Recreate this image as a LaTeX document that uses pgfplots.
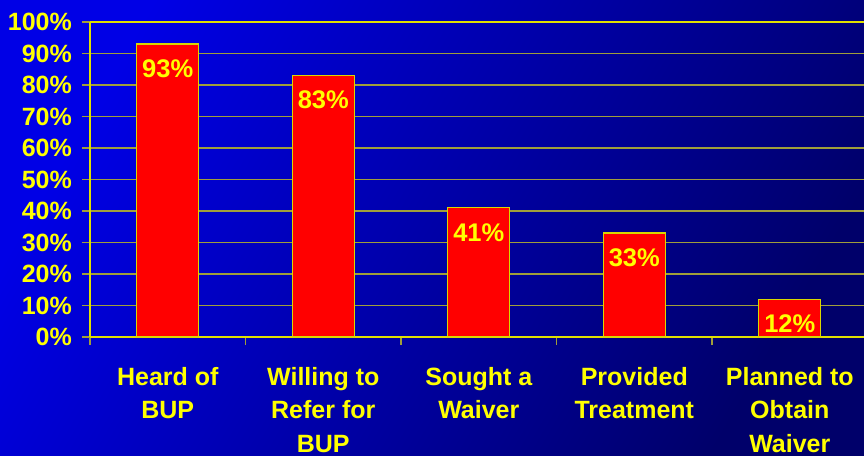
\documentclass[border=0pt]{standalone}
\usepackage{fontspec}
\setmainfont{Liberation Sans}
\usepackage{pgfplots}
\pgfplotsset{compat=1.18}

\definecolor{bgtop}{HTML}{0000E6}
\definecolor{bgbot}{HTML}{00006A}
\definecolor{gridcol}{HTML}{A09E3A}
\definecolor{axiscol}{HTML}{E0E000}
\definecolor{txtyellow}{HTML}{FFFF00}
\definecolor{barred}{HTML}{FF0000}
\definecolor{baredge}{HTML}{D8D800}

\begin{document}
\begin{tikzpicture}
\useasboundingbox (0,0) rectangle (864pt,455pt);
\clip (0,0) rectangle (864pt,455pt);
\shade[top color=bgtop, bottom color=bgbot, shading angle=60] (0,0) rectangle (864pt,455pt);
\begin{axis}[
  at={(90pt,118pt)}, anchor=south west,
  scale only axis, width=774pt, height=315pt,
  xmin=-0.5, xmax=4.477, ymin=0, ymax=100,
  axis x line*=box, axis y line*=left,
  xtick pos=bottom, ytick pos=left,
  axis line style={draw=axiscol, line width=1.3pt},
  ybar, bar width=62pt,
  ytick={0,10,...,100},
  yticklabel={\pgfmathprintnumber{\tick}\%},
  /pgf/number format/assume math mode=true,
  ymajorgrids, grid style={draw=gridcol, line width=1.2pt},
  tick align=outside, major tick length=8pt, minor tick length=8pt,
  ytick style={draw=gridcol, line width=1.2pt},
  every major x tick/.append style={draw=none},
  every minor x tick/.append style={draw=gridcol, line width=1.2pt},
  xtick={0,...,4},
  minor xtick={-0.5,0.5,1.5,2.5,3.5},
  xticklabels={{Heard of\\BUP},{Willing to\\Refer for\\BUP},{Sought a\\Waiver},{Provided\\Treatment},{Planned to\\Obtain\\Waiver}},
  xticklabel style={align=center, inner sep=0pt, yshift=-22pt,
    font=\fontsize{25}{33.5}\selectfont\bfseries, text=txtyellow},
  yticklabel style={inner sep=0pt, xshift=-10pt,
    font=\fontsize{25}{30}\selectfont\bfseries, text=txtyellow},
  nodes near coords={\pgfmathprintnumber{\pgfplotspointmeta}\%},
  every node near coord/.append style={anchor=north, inner sep=0pt, yshift=-15pt,
    font=\fontsize{25.5}{30}\selectfont\bfseries, text=txtyellow},
]
\addplot[fill=barred, draw=baredge, line width=1.2pt]
  coordinates {(0,93) (1,83) (2,41) (3,33) (4,12)};
\end{axis}
\end{tikzpicture}
\end{document}
